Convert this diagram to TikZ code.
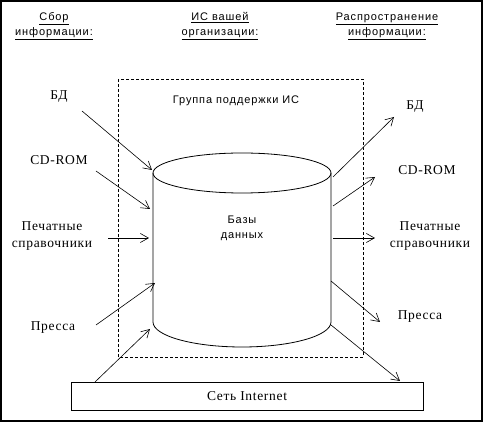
\documentclass[tikz,border=0pt]{standalone}
\usepackage{fontspec}
\setmainfont[LetterSpace=5]{Liberation Serif}
\newfontfamily\arialf[LetterSpace=8]{Liberation Sans}
\usetikzlibrary{arrows.meta}
\begin{document}
\begin{tikzpicture}[x=1pt,y=-1pt,
  serlab/.style={font=\fontsize{13.5}{17}\selectfont, inner sep=0pt, align=center},
  sanlab/.style={font=\arialf\fontsize{11}{15}\selectfont, inner sep=0pt, align=center},
  flow/.style={line width=0.6pt, -{Straight Barb[length=8pt,width=9pt]}},
  solidline/.style={line width=0.8pt}]
\useasboundingbox (0,0) rectangle (483,422);
% outer frame
\draw[line width=1.6pt] (0.8,0.8) rectangle (481.8,421.2);
% headers
\node[sanlab] (h1) at (54,26) {\underline{Сбор}\\\underline{информации:}};
\node[sanlab] (h2) at (220,26) {\underline{ИС вашей}\\\underline{организации:}};
\node[sanlab] (h3) at (387,26) {\underline{Распространение}\\\underline{информации:}};
% dashed group
\draw[dashed, line width=0.6pt, dash pattern=on 3pt off 2pt] (118,79) rectangle (363,357);
\node[sanlab] (grp) at (236,101) {Группа поддержки ИС};
% cylinder
\draw[solidline] (242,173) ellipse [x radius=89, y radius=20];
\draw[solidline] (153,173) -- (153,322) arc[start angle=180, end angle=0, x radius=89, y radius=25] -- (331,173);
\node[sanlab] (db) at (242,228) {Базы\\данных};
% internet box
\node[draw, solidline, minimum width=352pt, minimum height=28pt, inner sep=0pt, font=\fontsize{13.5}{17}\selectfont] (net) at (247,396) {Сеть Internet};
% left labels
\node[serlab] (lbd) at (59,97) {БД};
\node[serlab] (lcd) at (59,160) {CD-ROM};
\node[serlab] (lpr) at (52,236) {Печатные\\справочники};
\node[serlab] (lpress) at (53,328) {Пресса};
% right labels
\node[serlab] (rbd) at (415,107) {БД};
\node[serlab] (rcd) at (427,170) {CD-ROM};
\node[serlab] (rpr) at (430,236) {Печатные\\справочники};
\node[serlab] (rpress) at (420,317) {Пресса};
% coordinates
\coordinate (a1s) at (82,111); \coordinate (a1e) at (152,170);
\coordinate (a2s) at (96,171); \coordinate (a2e) at (150,209);
\coordinate (a3s) at (108,238); \coordinate (a3e) at (149,238);
\coordinate (a4s) at (96,325); \coordinate (a4e) at (155,283);
\coordinate (a5s) at (95,382); \coordinate (a5e) at (150,329);
\coordinate (b1s) at (333,177); \coordinate (b1e) at (394,117);
\coordinate (b2s) at (333,206); \coordinate (b2e) at (375,177);
\coordinate (b3s) at (333,238); \coordinate (b3e) at (375,238);
\coordinate (b4s) at (331,281); \coordinate (b4e) at (380,322);
\coordinate (b5s) at (331,325); \coordinate (b5e) at (400,381);
\foreach \s/\e in {a1s/a1e,a2s/a2e,a3s/a3e,a4s/a4e,a5s/a5e,b1s/b1e,b2s/b2e,b3s/b3e,b4s/b4e,b5s/b5e}
  \draw[flow] (\s) -- (\e);
\end{tikzpicture}
\end{document}
